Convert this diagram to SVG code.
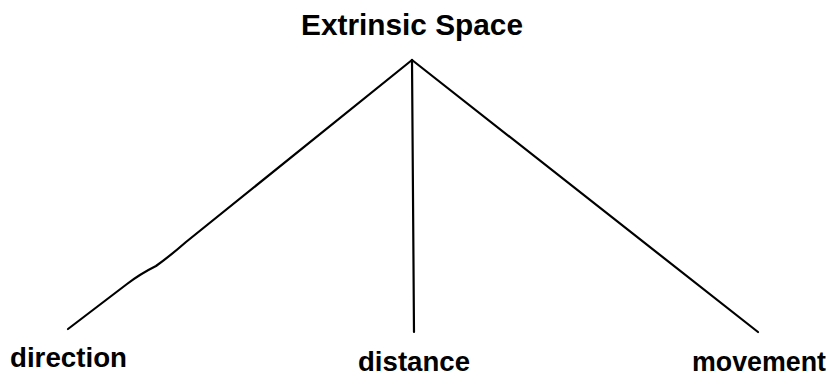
<svg xmlns="http://www.w3.org/2000/svg" width="832" height="377" viewBox="0 0 832 377">
<style>
.t{font-family:"Liberation Sans",Arial,sans-serif;font-weight:bold;fill:#000}
.c{fill:none;stroke:#000;stroke-width:2.2;stroke-linecap:round;stroke-linejoin:round}
</style>
<rect width="832" height="377" fill="#fff"/>
<g id="connectors">
<path class="c" d="M412,60 L186,242 Q170,256 156,266 Q140,274 127,284 L68,329"/>
<line class="c" x1="412" y1="60" x2="414" y2="332"/>
<line class="c" x1="412" y1="60" x2="758" y2="332"/>
</g>
<g id="extrinsic-space"><text class="t" x="412" y="35" font-size="30" text-anchor="middle" textLength="222" lengthAdjust="spacingAndGlyphs">Extrinsic Space</text></g>
<g id="direction"><text class="t" x="10" y="367" font-size="27" textLength="117" lengthAdjust="spacingAndGlyphs">direction</text></g>
<g id="distance"><text class="t" x="358" y="371" font-size="27" textLength="112" lengthAdjust="spacingAndGlyphs">distance</text></g>
<g id="movement"><text class="t" x="692" y="371" font-size="27" textLength="134" lengthAdjust="spacingAndGlyphs">movement</text></g>
</svg>
